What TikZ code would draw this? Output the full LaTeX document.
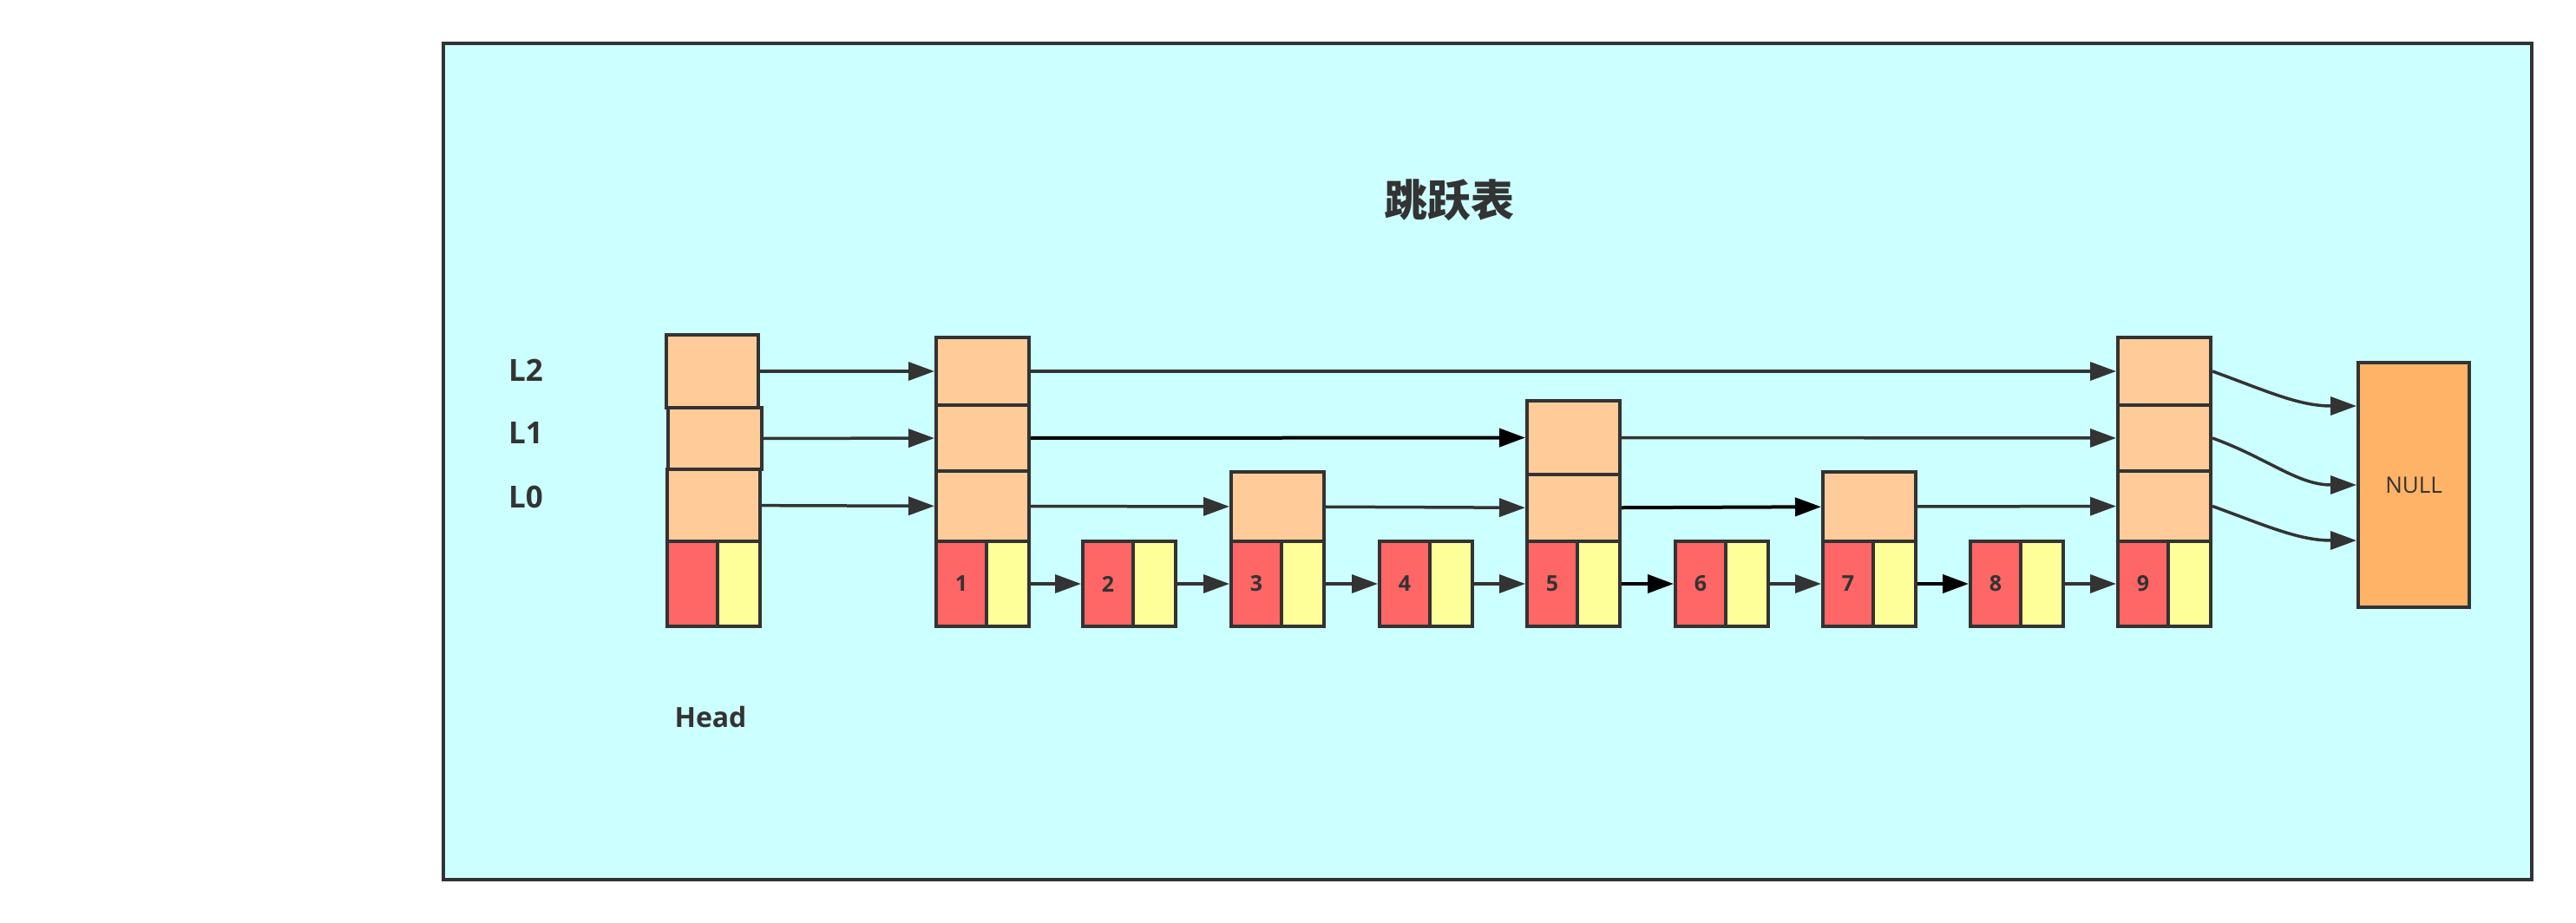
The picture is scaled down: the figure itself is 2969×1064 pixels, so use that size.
\documentclass[tikz,border=0pt]{standalone}
\usepackage{fontspec}
\setmainfont{Open Sans}
\newfontfamily\cjk{Noto Sans CJK SC}
\usepackage{tikz}
\usetikzlibrary{arrows.meta}
\definecolor{frameCyan}{HTML}{CCFFFF}
\definecolor{slotOrange}{HTML}{FFCC99}
\definecolor{keyRed}{HTML}{FF6666}
\definecolor{ptrYellow}{HTML}{FFFF99}
\definecolor{nullOrange}{HTML}{FFB366}
\definecolor{darkGray}{HTML}{333333}

\begin{document}
\begin{tikzpicture}[x=0.5pt, y=-0.5pt,
  cell/.style={draw=darkGray, line width=2pt, inner sep=0pt, minimum width=53.5pt},
  slot/.style={cell, fill=slotOrange},
  key/.style={cell, fill=keyRed, minimum width=29pt, minimum height=49pt, text=darkGray, font=\bfseries\fontsize{12.5}{14}\selectfont},
  ptr/.style={cell, fill=ptrYellow, minimum width=24.5pt, minimum height=49pt},
  lvl/.style={text=darkGray, font=\bfseries\fontsize{17.5}{20}\selectfont},
  link/.style={draw=darkGray, line width=1.75pt, -{Triangle[length=15pt,width=10.5pt]}},
  boldlink/.style={link, draw=black, line width=2pt}]
 	\useasboundingbox (0,0) rectangle (2969,1064);
 	\draw[draw=darkGray, fill=frameCyan, line width=2pt] (511,50) rectangle (2918,1014);
 	\node[text=darkGray, font=\cjk\bfseries\fontsize{25}{30}\selectfont] (title) at (1670,231) {跳跃表};
 	% level labels
 	\node[lvl] (lvlTwo) at (606,427) {L2};
 	\node[lvl] (lvlOne) at (606,499) {L1};
 	\node[lvl] (lvlZero) at (606,573) {L0};
 	\node[lvl, font=\bfseries\fontsize{16}{18}\selectfont] (headLabel) at (819,826) {Head};
 	% head
 	\node[slot, minimum width=53pt, minimum height=42pt] (hL2) at (821,428) {};
 	\node[slot, minimum width=54pt, minimum height=35.5pt] (hL1) at (824,505.5) {};
 	\node[slot, minimum height=41.5pt] (hL0) at (822.5,582.5) {};
 	\node[key] (hr) at (798,673) {};
 	\node[ptr] (hy) at (851.5,673) {};
 	% index slots
 	\node[slot, minimum height=39pt] (n1L2) at (1132.5,428) {};
 	\node[slot, minimum height=38pt] (n1L1) at (1132.5,505) {};
 	\node[slot, minimum height=40.5pt] (n1L0) at (1132.5,583.5) {};
 	\node[slot, minimum height=40pt] (n3L0) at (1472.5,584) {};
 	\node[slot, minimum height=42.5pt] (n5L1) at (1813.5,504.5) {};
 	\node[slot, minimum height=38.5pt] (n5L0) at (1813.5,585.5) {};
 	\node[slot, minimum height=40pt] (n7L0) at (2154.5,584) {};
 	\node[slot, minimum height=39pt] (n9L2) at (2494.5,428) {};
 	\node[slot, minimum height=38pt] (n9L1) at (2494.5,505) {};
 	\node[slot, minimum height=40.5pt] (n9L0) at (2494.5,583.5) {};
 	% data nodes
 	\node[key] (n1r) at (1108,673) {1};
 	\node[ptr] (n1y) at (1161.5,673) {};
 	\node[key] (n2r) at (1277,673) {2};
 	\node[ptr] (n2y) at (1330.5,673) {};
 	\node[key] (n3r) at (1448,673) {3};
 	\node[ptr] (n3y) at (1501.5,673) {};
 	\node[key] (n4r) at (1619,673) {4};
 	\node[ptr] (n4y) at (1672.5,673) {};
 	\node[key] (n5r) at (1789,673) {5};
 	\node[ptr] (n5y) at (1842.5,673) {};
 	\node[key] (n6r) at (1960,673) {6};
 	\node[ptr] (n6y) at (2013.5,673) {};
 	\node[key] (n7r) at (2130,673) {7};
 	\node[ptr] (n7y) at (2183.5,673) {};
 	\node[key] (n8r) at (2300,673) {8};
 	\node[ptr] (n8y) at (2353.5,673) {};
 	\node[key] (n9r) at (2470,673) {9};
 	\node[ptr] (n9y) at (2523.5,673) {};
 	\node[draw=darkGray, line width=2pt, fill=nullOrange, inner sep=0pt, minimum width=64pt, minimum height=141pt, text=darkGray, font=\fontsize{13}{15}\selectfont] (null) at (2782,559) {NULL};
 	% L2
 	\draw[link] (hL2) -- (n1L2);
 	\draw[link] (n1L2) -- (n9L2);
 	% L1
 	\draw[link] (hL1) -- (n1L1);
 	\draw[boldlink] (n1L1) -- (n5L1);
 	\draw[link] (n5L1) -- (n9L1);
 	% L0
 	\draw[link] (hL0) -- (n1L0);
 	\draw[link] (n1L0) -- (n3L0);
 	\draw[link] (n3L0) -- (n5L0);
 	\draw[boldlink] (n5L0) -- (n7L0);
 	\draw[link] (n7L0) -- (n9L0);
 	% data
 	\draw[link] (n1y) -- (n2r);
 	\draw[link] (n2y) -- (n3r);
 	\draw[link] (n3y) -- (n4r);
 	\draw[link] (n4y) -- (n5r);
 	\draw[boldlink] (n5y) -- (n6r);
 	\draw[link] (n6y) -- (n7r);
 	\draw[boldlink] (n7y) -- (n8r);
 	\draw[link] (n8y) -- (n9r);
 	% to NULL
 	\draw[link] (n9L2.east) to[out=-20,in=180] ([yshift=45.5pt]null.west);
 	\draw[link] (n9L1.east) to[out=-20,in=180] (null.west);
 	\draw[link] (n9L0.east) to[out=-20,in=180] ([yshift=-32pt]null.west);
\end{tikzpicture}
\end{document}
